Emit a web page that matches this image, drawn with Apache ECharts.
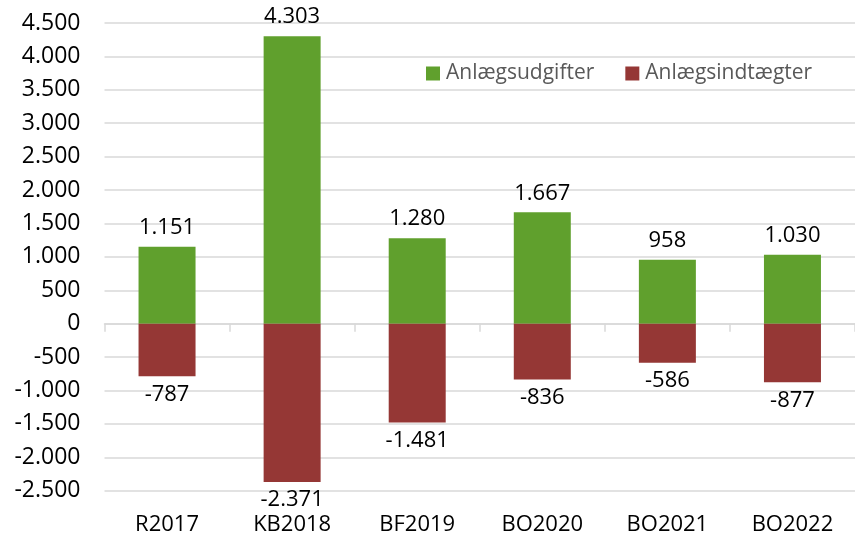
<!DOCTYPE html>
<html>
<head>
<meta charset="utf-8">
<script src="https://cdn.jsdelivr.net/npm/echarts@6/dist/echarts.min.js"></script>
<style>
html,body{margin:0;padding:0;background:#fff;}
#c{width:855px;height:537px;}
</style>
</head>
<body>
<div id="c"></div>
<script>
var categories = ['R2017', 'KB2018', 'BF2019', 'BO2020', 'BO2021', 'BO2022'];
var udgifter = [1151, 4303, 1280, 1667, 958, 1030];
var indtaegter = [-787, -2371, -1481, -836, -586, -877];
var seriesNames = ['Anlægsudgifter', 'Anlægsindtægter'];

function fmt(v) {
  var neg = v < 0;
  var s = String(Math.abs(Math.round(v)));
  s = s.replace(/\B(?=(\d{3})+(?!\d))/g, '.');
  return (neg ? '-' : '') + s;
}

var FONT = '"Open Sans", sans-serif';
var chart = echarts.init(document.getElementById('c'));
chart.setOption({
  backgroundColor: '#ffffff',
  animation: false,
  textStyle: { fontFamily: FONT },
  grid: { left: 104.5, top: 23, width: 757, height: 467.7, containLabel: false },
  legend: {
    left: 421, top: 58,
    itemWidth: 14, itemHeight: 14, itemGap: 31,
    icon: 'rect',
    textStyle: { fontFamily: FONT, fontSize: 21, color: '#595959', padding: [0, 0, 0, 1] },
    data: seriesNames
  },
  xAxis: [
    {
      type: 'category', data: categories, position: 'bottom',
      axisLine: { onZero: true, lineStyle: { color: '#d9d9d9', width: 1.5 } },
      axisTick: { show: true, length: 8, alignWithLabel: false, lineStyle: { color: '#d9d9d9', width: 1.5 } },
      axisLabel: { show: false },
      splitLine: { show: false }
    },
    {
      type: 'category', data: categories, position: 'bottom',
      axisLine: { show: false, onZero: false },
      axisTick: { show: false },
      axisLabel: { show: true, margin: 23, fontFamily: FONT, fontSize: 22, color: '#000000' },
      splitLine: { show: false }
    }
  ],
  yAxis: {
    type: 'value', min: -2500, max: 4500, interval: 500,
    axisLine: { show: false },
    axisTick: { show: false },
    axisLabel: { margin: 24, fontFamily: FONT, fontSize: 23, color: '#000000', formatter: function (v) { return fmt(v); } },
    splitLine: { show: true, lineStyle: { color: '#d9d9d9', width: 1.5 } }
  },
  series: [
    {
      name: seriesNames[0], type: 'bar', stack: 'tot', xAxisIndex: 0,
      data: udgifter, barWidth: 57,
      itemStyle: { color: '#60a02d' },
      label: { show: true, position: 'top', distance: 8, fontFamily: FONT, fontSize: 22, color: '#000', formatter: function (p) { return fmt(p.value); } }
    },
    {
      name: seriesNames[1], type: 'bar', stack: 'tot', xAxisIndex: 0,
      data: indtaegter, barWidth: 57,
      itemStyle: { color: '#953735' },
      label: { show: true, position: 'bottom', distance: 7, fontFamily: FONT, fontSize: 22, color: '#000', formatter: function (p) { return fmt(p.value); } }
    }
  ]
});
</script>
</body>
</html>
